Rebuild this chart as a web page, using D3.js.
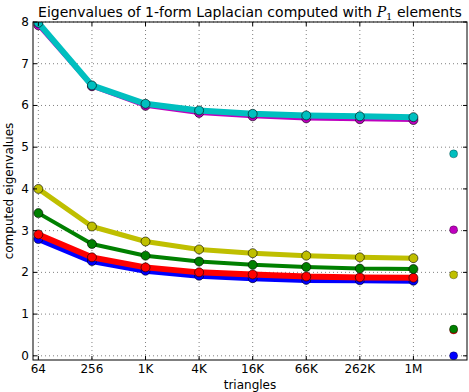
<!DOCTYPE html>
<html>
<head>
<meta charset="utf-8">
<script src="https://cdn.jsdelivr.net/npm/d3@7"></script>
<style>
  body { margin: 0; background: #fff; }
  text { font-family: "DejaVu Sans", sans-serif; fill: #000; }
</style>
</head>
<body>
<svg width="469" height="392"></svg>
<script>
const svg = d3.select("svg");

// data
const tickLabels = ["64", "256", "1K", "4K", "16K", "66K", "262K", "1M"];
const cyanVals    = [7.98, 6.48, 6.04, 5.88, 5.80, 5.76, 5.74, 5.72];
const magentaVals = [7.92, 6.46, 5.99, 5.82, 5.74, 5.69, 5.67, 5.65];
const yellowVals  = [4.00, 3.10, 2.74, 2.55, 2.46, 2.40, 2.36, 2.34];
const greenVals   = [3.42, 2.68, 2.40, 2.26, 2.18, 2.13, 2.09, 2.08];
const redVals     = [2.91, 2.36, 2.12, 2.00, 1.95, 1.90, 1.88, 1.87];
const blueVals    = [2.80, 2.27, 2.04, 1.92, 1.86, 1.82, 1.81, 1.80];
const exactVals   = [0.0, 0.62, 0.64, 1.94, 3.02, 4.84]; // blue, red, green, yellow, magenta, cyan

const series = [
  {vals: blueVals,    color: "#0000ff", w: 6},
  {vals: redVals,     color: "#ff0000", w: 6},
  {vals: greenVals,   color: "#008000", w: 4},
  {vals: yellowVals,  color: "#bfbf00", w: 5},
  {vals: magentaVals, color: "#bf00bf", w: 4},
  {vals: cyanVals,    color: "#00bfbf", w: 6}
];

const mLeft = 33, mRight = 467, mTop = 22, mBottom = 360;

const x = d3.scaleLinear().domain([-0.1, 8]).range([mLeft, mRight]);
const y = d3.scaleLinear().domain([-0.1, 8]).range([mBottom, mTop]);

// grid
const g = svg.append("g");
tickLabels.forEach((t, i) => {
  g.append("line")
    .attr("x1", x(i)).attr("x2", x(i)).attr("y1", mTop).attr("y2", mBottom)
    .attr("stroke", "#000").attr("stroke-width", 0.5).attr("stroke-dasharray", "1,3");
});
d3.range(0, 9).forEach(v => {
  g.append("line")
    .attr("x1", mLeft).attr("x2", mRight).attr("y1", y(v)).attr("y2", y(v))
    .attr("stroke", "#000").attr("stroke-width", 0.5).attr("stroke-dasharray", "1,3");
});

// clip
svg.append("clipPath").attr("id", "clip")
  .append("rect").attr("x", mLeft).attr("y", mTop).attr("width", mRight - mLeft).attr("height", mBottom - mTop);

const plot = svg.append("g").attr("clip-path", "url(#clip)");
const line = d3.line().x((d, i) => x(i)).y(d => y(d));

series.forEach(s => {
  plot.append("path")
    .attr("d", line(s.vals))
    .attr("fill", "none")
    .attr("stroke", s.color)
    .attr("stroke-width", s.w)
    .attr("stroke-linejoin", "round");
  plot.selectAll(null).data(s.vals).enter().append("circle")
    .attr("cx", (d, i) => x(i))
    .attr("cy", d => y(d))
    .attr("r", 4.5)
    .attr("fill", s.color)
    .attr("stroke", "#000")
    .attr("stroke-width", 0.6);
});

// exact values
plot.selectAll(null).data(exactVals).enter().append("circle")
  .attr("cx", x(7.75))
  .attr("cy", d => y(d))
  .attr("r", 4)
  .attr("fill", (d, i) => series[i].color)
  .attr("stroke", "#000")
  .attr("stroke-width", 0.3);

// frame
svg.append("rect")
  .attr("x", mLeft).attr("y", mTop).attr("width", mRight - mLeft).attr("height", mBottom - mTop)
  .attr("fill", "none").attr("stroke", "#000").attr("stroke-width", 1);

// ticks
tickLabels.forEach((t, i) => {
  svg.append("line").attr("x1", x(i)).attr("x2", x(i)).attr("y1", mBottom).attr("y2", mBottom - 4).attr("stroke", "#000");
  svg.append("line").attr("x1", x(i)).attr("x2", x(i)).attr("y1", mTop).attr("y2", mTop + 4).attr("stroke", "#000");
  svg.append("text")
    .attr("x", x(i)).attr("y", mBottom + 13)
    .attr("text-anchor", "middle")
    .attr("font-size", 12)
    .text(t);
});
d3.range(0, 9).forEach(v => {
  svg.append("line").attr("x1", mLeft).attr("x2", mLeft + 4).attr("y1", y(v)).attr("y2", y(v)).attr("stroke", "#000");
  svg.append("line").attr("x1", mRight).attr("x2", mRight - 4).attr("y1", y(v)).attr("y2", y(v)).attr("stroke", "#000");
  svg.append("text")
    .attr("x", mLeft - 4).attr("y", y(v) + 4)
    .attr("text-anchor", "end")
    .attr("font-size", 12)
    .text(v);
});

// labels
svg.append("text")
  .attr("x", (mLeft + mRight) / 2).attr("y", 389)
  .attr("text-anchor", "middle")
  .attr("font-size", 12)
  .text("triangles");

svg.append("text")
  .attr("transform", `translate(13, ${(mTop + mBottom) / 2}) rotate(-90)`)
  .attr("text-anchor", "middle")
  .attr("font-size", 12)
  .text("computed eigenvalues");

const title = svg.append("text")
  .attr("x", (mLeft + mRight) / 2).attr("y", 17)
  .attr("text-anchor", "middle")
  .attr("font-size", 14);
title.append("tspan").text("Eigenvalues of 1-form Laplacian computed with ");
title.append("tspan").attr("font-family", "DejaVu Serif, serif").attr("font-style", "italic").text("P");
title.append("tspan").attr("font-family", "DejaVu Serif, serif").attr("font-size", 10).attr("dy", 3).text("1");
title.append("tspan").attr("dy", -3).text(" elements");
</script>
</body>
</html>
